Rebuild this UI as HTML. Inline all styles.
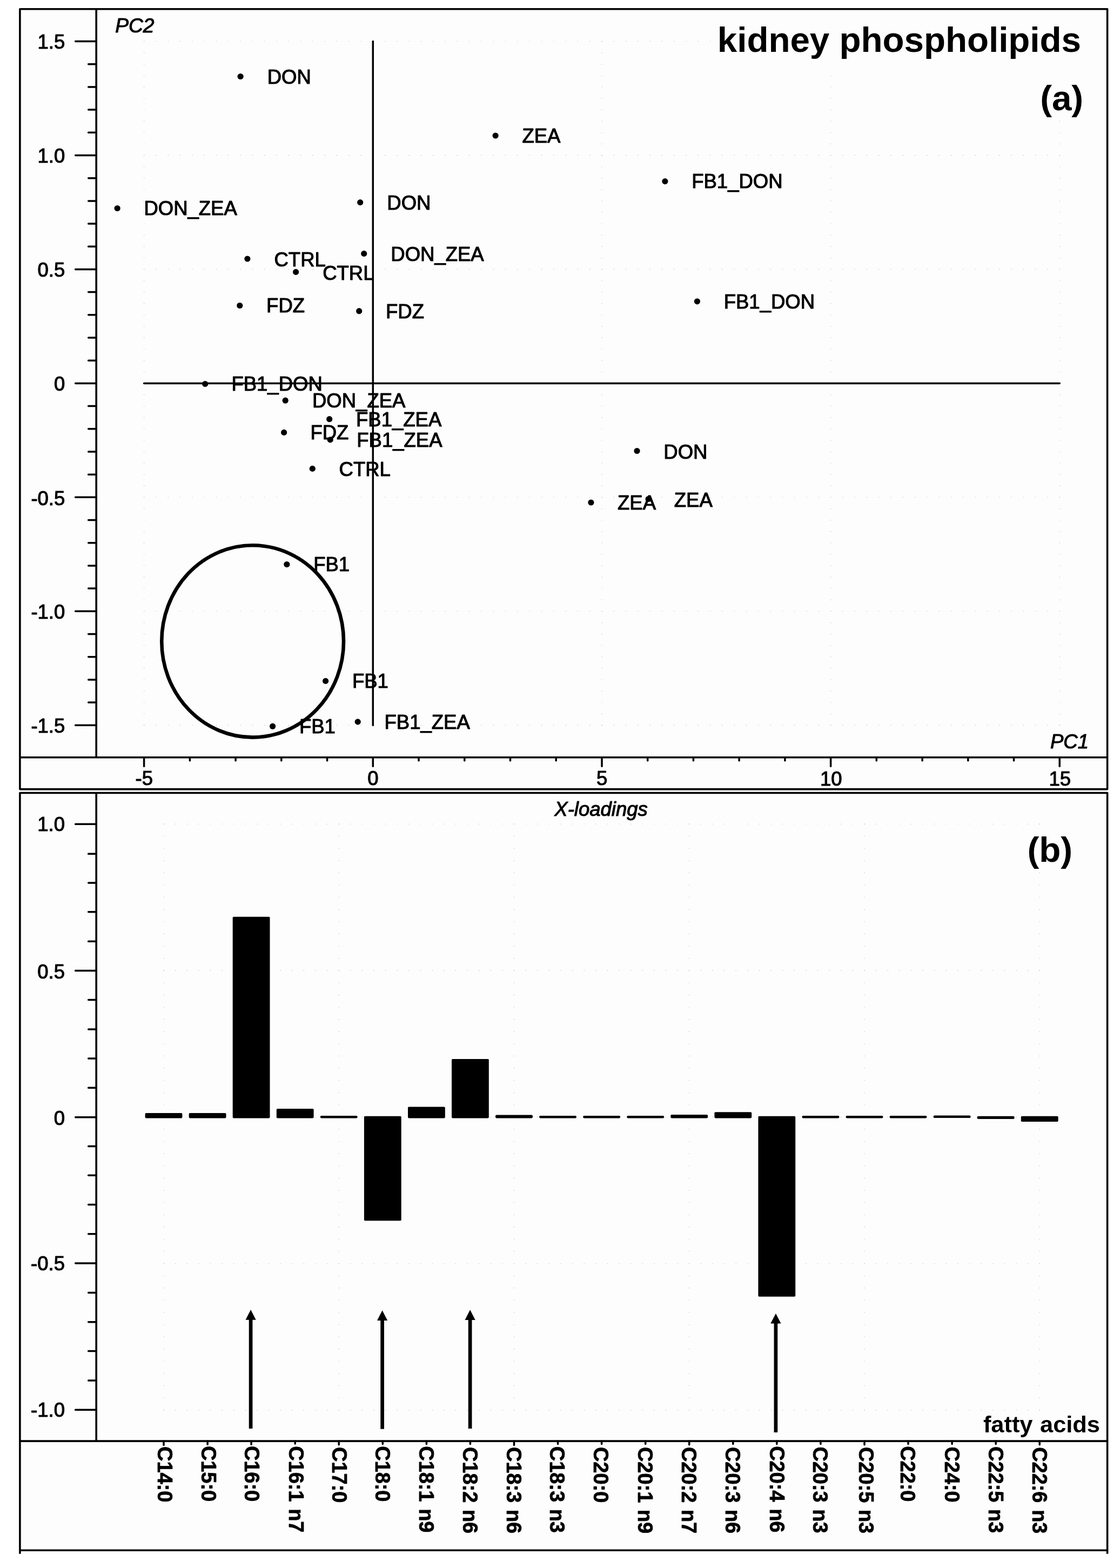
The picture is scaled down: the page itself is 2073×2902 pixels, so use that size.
<!DOCTYPE html>
<html lang="en">
<head>
<meta charset="utf-8">
<title>kidney phospholipids</title>
<style>
html,body{margin:0;padding:0;background:#fff;}
body{width:2073px;height:2902px;overflow:hidden;}
svg{display:block;}
text{white-space:pre;}
</style>
</head>
<body>
<svg width="2073" height="2902" viewBox="0 0 2073 2902">
<rect x="0" y="0" width="2073" height="2902" fill="#fff"/>
<rect x="36.9" y="16.8" width="2012.6999999999998" height="2852.3999999999996" fill="#fdfdfd"/>
<g stroke="#b2b2b2" stroke-width="1.3" stroke-linecap="round" fill="none">
<line x1="266.65" y1="76.55" x2="1961.75" y2="76.55" stroke-dasharray="0 22.297"/>
<line x1="266.65" y1="287.50" x2="1961.75" y2="287.50" stroke-dasharray="0 22.297"/>
<line x1="266.65" y1="498.45" x2="1961.75" y2="498.45" stroke-dasharray="0 22.297"/>
<line x1="266.65" y1="920.35" x2="1961.75" y2="920.35" stroke-dasharray="0 22.297"/>
<line x1="266.65" y1="1131.30" x2="1961.75" y2="1131.30" stroke-dasharray="0 22.297"/>
<line x1="266.65" y1="1342.25" x2="1961.75" y2="1342.25" stroke-dasharray="0 22.297"/>
<line x1="266.65" y1="76.55" x2="266.65" y2="1342.75" stroke-dasharray="0 21.095"/>
<line x1="1113.95" y1="76.55" x2="1113.95" y2="1342.75" stroke-dasharray="0 21.095"/>
<line x1="1537.60" y1="76.55" x2="1537.60" y2="1342.75" stroke-dasharray="0 21.095"/>
<line x1="1961.25" y1="76.55" x2="1961.25" y2="1342.75" stroke-dasharray="0 21.095"/>
<line x1="303.00" y1="1525.10" x2="1924.70" y2="1525.10" stroke-dasharray="0 21.616"/>
<line x1="303.00" y1="1796.25" x2="1924.70" y2="1796.25" stroke-dasharray="0 21.616"/>
<line x1="303.00" y1="2067.40" x2="1924.70" y2="2067.40" stroke-dasharray="0 21.616"/>
<line x1="303.00" y1="2338.55" x2="1924.70" y2="2338.55" stroke-dasharray="0 21.616"/>
<line x1="303.00" y1="2609.70" x2="1924.70" y2="2609.70" stroke-dasharray="0 21.616"/>
<line x1="303.00" y1="1525.10" x2="303.00" y2="2610.20" stroke-dasharray="0 22.596"/>
<line x1="627.24" y1="1525.10" x2="627.24" y2="2610.20" stroke-dasharray="0 22.596"/>
<line x1="951.48" y1="1525.10" x2="951.48" y2="2610.20" stroke-dasharray="0 22.596"/>
<line x1="1275.72" y1="1525.10" x2="1275.72" y2="2610.20" stroke-dasharray="0 22.596"/>
<line x1="1599.96" y1="1525.10" x2="1599.96" y2="2610.20" stroke-dasharray="0 22.596"/>
<line x1="1924.20" y1="1525.10" x2="1924.20" y2="2610.20" stroke-dasharray="0 22.596"/>
</g>
<g fill="#fdfdfd">
<rect x="1322" y="40" width="690" height="80"/>
<rect x="1920" y="120" width="92" height="99"/>
<rect x="1896" y="1536" width="96" height="70"/>
</g>
<g stroke="#000" stroke-width="3.6" fill="none" stroke-linecap="butt" stroke-linejoin="round">
<rect x="36.9" y="16.8" width="2012.6999999999998" height="1443.8"/>
<line x1="36.9" y1="1401.7" x2="2049.6" y2="1401.7"/>
<line x1="178.2" y1="16.8" x2="178.2" y2="1401.7"/>
<path d="M36.9 2875.7 V1467.5 H2049.6 V2875.7"/>
<line x1="36.9" y1="2869.2" x2="2049.6" y2="2869.2"/>
<line x1="36.9" y1="2667.1" x2="2049.6" y2="2667.1"/>
<line x1="178.2" y1="1467.5" x2="178.2" y2="2667.1"/>
</g>
<g stroke="#000" stroke-width="3.5" fill="none" stroke-linecap="round">
<line x1="139.7" y1="76.6" x2="178.2" y2="76.6"/>
<line x1="163.7" y1="118.7" x2="178.2" y2="118.7"/>
<line x1="163.7" y1="160.9" x2="178.2" y2="160.9"/>
<line x1="163.7" y1="203.1" x2="178.2" y2="203.1"/>
<line x1="163.7" y1="245.3" x2="178.2" y2="245.3"/>
<line x1="139.7" y1="287.5" x2="178.2" y2="287.5"/>
<line x1="163.7" y1="329.7" x2="178.2" y2="329.7"/>
<line x1="163.7" y1="371.9" x2="178.2" y2="371.9"/>
<line x1="163.7" y1="414.1" x2="178.2" y2="414.1"/>
<line x1="163.7" y1="456.3" x2="178.2" y2="456.3"/>
<line x1="139.7" y1="498.4" x2="178.2" y2="498.4"/>
<line x1="163.7" y1="540.6" x2="178.2" y2="540.6"/>
<line x1="163.7" y1="582.8" x2="178.2" y2="582.8"/>
<line x1="163.7" y1="625.0" x2="178.2" y2="625.0"/>
<line x1="163.7" y1="667.2" x2="178.2" y2="667.2"/>
<line x1="139.7" y1="709.4" x2="178.2" y2="709.4"/>
<line x1="163.7" y1="751.6" x2="178.2" y2="751.6"/>
<line x1="163.7" y1="793.8" x2="178.2" y2="793.8"/>
<line x1="163.7" y1="836.0" x2="178.2" y2="836.0"/>
<line x1="163.7" y1="878.2" x2="178.2" y2="878.2"/>
<line x1="139.7" y1="920.3" x2="178.2" y2="920.3"/>
<line x1="163.7" y1="962.5" x2="178.2" y2="962.5"/>
<line x1="163.7" y1="1004.7" x2="178.2" y2="1004.7"/>
<line x1="163.7" y1="1046.9" x2="178.2" y2="1046.9"/>
<line x1="163.7" y1="1089.1" x2="178.2" y2="1089.1"/>
<line x1="139.7" y1="1131.3" x2="178.2" y2="1131.3"/>
<line x1="163.7" y1="1173.5" x2="178.2" y2="1173.5"/>
<line x1="163.7" y1="1215.7" x2="178.2" y2="1215.7"/>
<line x1="163.7" y1="1257.9" x2="178.2" y2="1257.9"/>
<line x1="163.7" y1="1300.1" x2="178.2" y2="1300.1"/>
<line x1="139.7" y1="1342.2" x2="178.2" y2="1342.2"/>
<line x1="266.6" y1="1401.7" x2="266.6" y2="1418.2"/>
<line x1="351.4" y1="1401.7" x2="351.4" y2="1407.8"/>
<line x1="436.1" y1="1401.7" x2="436.1" y2="1407.8"/>
<line x1="520.8" y1="1401.7" x2="520.8" y2="1407.8"/>
<line x1="605.6" y1="1401.7" x2="605.6" y2="1407.8"/>
<line x1="690.3" y1="1401.7" x2="690.3" y2="1418.2"/>
<line x1="775.0" y1="1401.7" x2="775.0" y2="1407.8"/>
<line x1="859.8" y1="1401.7" x2="859.8" y2="1407.8"/>
<line x1="944.5" y1="1401.7" x2="944.5" y2="1407.8"/>
<line x1="1029.2" y1="1401.7" x2="1029.2" y2="1407.8"/>
<line x1="1114.0" y1="1401.7" x2="1114.0" y2="1418.2"/>
<line x1="1198.7" y1="1401.7" x2="1198.7" y2="1407.8"/>
<line x1="1283.4" y1="1401.7" x2="1283.4" y2="1407.8"/>
<line x1="1368.1" y1="1401.7" x2="1368.1" y2="1407.8"/>
<line x1="1452.9" y1="1401.7" x2="1452.9" y2="1407.8"/>
<line x1="1537.6" y1="1401.7" x2="1537.6" y2="1418.2"/>
<line x1="1622.3" y1="1401.7" x2="1622.3" y2="1407.8"/>
<line x1="1707.1" y1="1401.7" x2="1707.1" y2="1407.8"/>
<line x1="1791.8" y1="1401.7" x2="1791.8" y2="1407.8"/>
<line x1="1876.5" y1="1401.7" x2="1876.5" y2="1407.8"/>
<line x1="1961.2" y1="1401.7" x2="1961.2" y2="1418.2"/>
<line x1="139.7" y1="1525.3" x2="178.2" y2="1525.3"/>
<line x1="163.7" y1="1580.2" x2="178.2" y2="1580.2"/>
<line x1="163.7" y1="1634.1" x2="178.2" y2="1634.1"/>
<line x1="163.7" y1="1687.8" x2="178.2" y2="1687.8"/>
<line x1="163.7" y1="1742.3" x2="178.2" y2="1742.3"/>
<line x1="139.7" y1="1796.6" x2="178.2" y2="1796.6"/>
<line x1="163.7" y1="1850.6" x2="178.2" y2="1850.6"/>
<line x1="163.7" y1="1905.1" x2="178.2" y2="1905.1"/>
<line x1="163.7" y1="1958.9" x2="178.2" y2="1958.9"/>
<line x1="163.7" y1="2013.2" x2="178.2" y2="2013.2"/>
<line x1="139.7" y1="2067.7" x2="178.2" y2="2067.7"/>
<line x1="163.7" y1="2121.6" x2="178.2" y2="2121.6"/>
<line x1="163.7" y1="2175.2" x2="178.2" y2="2175.2"/>
<line x1="163.7" y1="2229.6" x2="178.2" y2="2229.6"/>
<line x1="163.7" y1="2283.7" x2="178.2" y2="2283.7"/>
<line x1="139.7" y1="2338.0" x2="178.2" y2="2338.0"/>
<line x1="163.7" y1="2392.5" x2="178.2" y2="2392.5"/>
<line x1="163.7" y1="2446.8" x2="178.2" y2="2446.8"/>
<line x1="163.7" y1="2500.4" x2="178.2" y2="2500.4"/>
<line x1="163.7" y1="2554.9" x2="178.2" y2="2554.9"/>
<line x1="139.7" y1="2609.2" x2="178.2" y2="2609.2"/>
<line x1="303.0" y1="2667.1" x2="303.0" y2="2674.4"/>
<line x1="384.1" y1="2667.1" x2="384.1" y2="2673.2"/>
<line x1="465.1" y1="2667.1" x2="465.1" y2="2673.2"/>
<line x1="546.2" y1="2667.1" x2="546.2" y2="2672.0"/>
<line x1="627.2" y1="2667.1" x2="627.2" y2="2673.8"/>
<line x1="708.3" y1="2667.1" x2="708.3" y2="2672.6"/>
<line x1="789.4" y1="2667.1" x2="789.4" y2="2672.6"/>
<line x1="870.4" y1="2667.1" x2="870.4" y2="2672.6"/>
<line x1="951.5" y1="2667.1" x2="951.5" y2="2674.4"/>
<line x1="1032.5" y1="2667.1" x2="1032.5" y2="2672.6"/>
<line x1="1113.6" y1="2667.1" x2="1113.6" y2="2672.6"/>
<line x1="1194.7" y1="2667.1" x2="1194.7" y2="2672.6"/>
<line x1="1275.7" y1="2667.1" x2="1275.7" y2="2673.8"/>
<line x1="1356.8" y1="2667.1" x2="1356.8" y2="2672.6"/>
<line x1="1437.8" y1="2667.1" x2="1437.8" y2="2672.6"/>
<line x1="1518.9" y1="2667.1" x2="1518.9" y2="2672.6"/>
<line x1="1600.0" y1="2667.1" x2="1600.0" y2="2673.8"/>
<line x1="1681.0" y1="2667.1" x2="1681.0" y2="2672.6"/>
<line x1="1762.1" y1="2667.1" x2="1762.1" y2="2672.6"/>
<line x1="1843.1" y1="2667.1" x2="1843.1" y2="2672.6"/>
<line x1="1924.2" y1="2667.1" x2="1924.2" y2="2673.8"/>
</g>
<g stroke="#000" stroke-width="3.5" fill="none" stroke-linecap="round">
<line x1="266.6" y1="709.4" x2="1961.2" y2="709.4"/>
<line x1="690.3" y1="76.6" x2="690.3" y2="1342.2"/>
</g>
<g font-family="'Liberation Sans', Arial, sans-serif" font-size="36.5" fill="#000" stroke="#000" stroke-width="1.1" stroke-linejoin="round">
<text x="120.3" y="89.5" text-anchor="end">1.5</text>
<text x="120.3" y="300.7" text-anchor="end">1.0</text>
<text x="120.3" y="512.1" text-anchor="end">0.5</text>
<text x="120.3" y="722.8" text-anchor="end">0</text>
<text x="120.3" y="934.5" text-anchor="end">-0.5</text>
<text x="120.3" y="1145.3" text-anchor="end">-1.0</text>
<text x="120.3" y="1355.7" text-anchor="end">-1.5</text>
<text x="266.8" y="1453.3" text-anchor="middle">-5</text>
<text x="690.5" y="1453.3" text-anchor="middle">0</text>
<text x="1114.2" y="1453.3" text-anchor="middle">5</text>
<text x="1538.2" y="1454.0" text-anchor="middle">10</text>
<text x="1961.8" y="1454.0" text-anchor="middle">15</text>
<text x="120.0" y="1538.2" text-anchor="end">1.0</text>
<text x="120.0" y="1810.5" text-anchor="end">0.5</text>
<text x="120.0" y="2081.5" text-anchor="end">0</text>
<text x="120.0" y="2351.2" text-anchor="end">-0.5</text>
<text x="120.0" y="2622.1" text-anchor="end">-1.0</text>
</g>
<g font-family="'Liberation Sans', Arial, sans-serif" font-size="36.5" font-style="italic" fill="#000" stroke="#000" stroke-width="1.1" stroke-linejoin="round">
<text x="213.2" y="60.1" font-size="37.2">PC2</text>
<text x="2015" y="1384.6" text-anchor="end">PC1</text>
<text x="1112.6" y="1509.5" text-anchor="middle">X-loadings</text>
</g>
<g font-family="'Liberation Sans', Arial, sans-serif" font-weight="bold" fill="#000">
<text x="2001" y="96.2" text-anchor="end" font-size="65.5">kidney phospholipids</text>
<text x="2005.2" y="203.5" text-anchor="end" font-size="65.5">(a)</text>
<text x="1985.2" y="1594.6" text-anchor="end" font-size="65.5">(b)</text>
<text x="2036" y="2651.4" text-anchor="end" font-size="43.4" style="word-spacing:1.5px">fatty acids</text>
</g>
<g fill="#000">
<circle cx="445.1" cy="141.5" r="5.6"/>
<circle cx="917.1" cy="251" r="5.6"/>
<circle cx="1230.9" cy="335.6" r="5.6"/>
<circle cx="217.1" cy="385.5" r="5.6"/>
<circle cx="666.7" cy="374.6" r="5.6"/>
<circle cx="457.9" cy="479" r="5.6"/>
<circle cx="547.6" cy="503.4" r="5.6"/>
<circle cx="673.7" cy="469.4" r="5.6"/>
<circle cx="443.8" cy="565.5" r="5.6"/>
<circle cx="664.7" cy="575.7" r="5.6"/>
<circle cx="1290.4" cy="557.8" r="5.6"/>
<circle cx="379.7" cy="710.5" r="5.6"/>
<circle cx="528.2" cy="741.2" r="5.6"/>
<circle cx="609.7" cy="775.7" r="5.6"/>
<circle cx="525.6" cy="800.4" r="5.6"/>
<circle cx="611.2" cy="813.9" r="5.6"/>
<circle cx="578.3" cy="867.4" r="5.6"/>
<circle cx="1179" cy="834.5" r="5.6"/>
<circle cx="1093.9" cy="930.0" r="5.6"/>
<circle cx="1200.1" cy="923.5" r="5.6"/>
<circle cx="530.9" cy="1044.5" r="5.6"/>
<circle cx="602.6" cy="1260.4" r="5.6"/>
<circle cx="504.6" cy="1344.2" r="5.6"/>
<circle cx="662.2" cy="1335.9" r="5.6"/>
</g>
<g font-family="'Liberation Sans', Arial, sans-serif" font-size="36.5" fill="#000" stroke="#000" stroke-width="1.1" stroke-linejoin="round">
<text x="494.7" y="155.2">DON</text>
<text x="966.4" y="264.4">ZEA</text>
<text x="1280.2" y="348.4">FB1_DON</text>
<text x="266.4" y="398.3">DON_ZEA</text>
<text x="716.3" y="388.3">DON</text>
<text x="507.5" y="492.5">CTRL</text>
<text x="597.2" y="517.6">CTRL</text>
<text x="723.3" y="483.1">DON_ZEA</text>
<text x="493.1" y="578.2">FDZ</text>
<text x="714.0" y="588.9">FDZ</text>
<text x="1339.7" y="570.6">FB1_DON</text>
<text x="428.4" y="723.4">FB1_DON</text>
<text x="578.0" y="753.8">DON_ZEA</text>
<text x="659.0" y="789.0">FB1_ZEA</text>
<text x="574.4" y="813.4">FDZ</text>
<text x="660.3" y="827.3">FB1_ZEA</text>
<text x="627.6" y="880.6">CTRL</text>
<text x="1228.3" y="848.5">DON</text>
<text x="1143.0" y="942.9">ZEA</text>
<text x="1247.8" y="937.8">ZEA</text>
<text x="580.2" y="1057.3">FB1</text>
<text x="651.9" y="1273.2">FB1</text>
<text x="553.9" y="1357.0">FB1</text>
<text x="711.5" y="1348.7">FB1_ZEA</text>
</g>
<ellipse cx="467.65" cy="1186.9" rx="168.4" ry="177.7" fill="none" stroke="#000" stroke-width="6.6"/>
<g fill="#000">
<rect x="268.6" y="2060.1" width="68.8" height="9.3" rx="1.8" ry="1.8"/>
<rect x="349.7" y="2060.1" width="68.8" height="9.3" rx="1.8" ry="1.8"/>
<rect x="430.7" y="1696.8" width="68.8" height="372.6" rx="1.8" ry="1.8"/>
<rect x="511.8" y="2052.1" width="68.8" height="17.3" rx="1.8" ry="1.8"/>
<rect x="592.8" y="2065.0" width="68.8" height="4.4" rx="1.8" ry="1.8"/>
<rect x="673.9" y="2065.8" width="68.8" height="193.5" rx="1.8" ry="1.8"/>
<rect x="755.0" y="2048.4" width="68.8" height="21.0" rx="1.8" ry="1.8"/>
<rect x="836.0" y="1960.0" width="68.8" height="109.4" rx="1.8" ry="1.8"/>
<rect x="917.1" y="2063.5" width="68.8" height="5.9" rx="1.8" ry="1.8"/>
<rect x="998.1" y="2065.0" width="68.8" height="4.4" rx="1.8" ry="1.8"/>
<rect x="1079.2" y="2065.0" width="68.8" height="4.4" rx="1.8" ry="1.8"/>
<rect x="1160.3" y="2065.0" width="68.8" height="4.4" rx="1.8" ry="1.8"/>
<rect x="1241.3" y="2063.0" width="68.8" height="6.4" rx="1.8" ry="1.8"/>
<rect x="1322.4" y="2058.3" width="68.8" height="11.1" rx="1.8" ry="1.8"/>
<rect x="1403.4" y="2065.8" width="68.8" height="333.9" rx="1.8" ry="1.8"/>
<rect x="1484.5" y="2065.0" width="68.8" height="4.4" rx="1.8" ry="1.8"/>
<rect x="1565.6" y="2065.0" width="68.8" height="4.4" rx="1.8" ry="1.8"/>
<rect x="1646.6" y="2065.0" width="68.8" height="4.4" rx="1.8" ry="1.8"/>
<rect x="1727.7" y="2064.6" width="68.8" height="4.4" rx="1.8" ry="1.8"/>
<rect x="1808.7" y="2065.8" width="68.8" height="5.2" rx="1.8" ry="1.8"/>
<rect x="1889.8" y="2065.8" width="68.8" height="10.2" rx="1.8" ry="1.8"/>
</g>
<line x1="464.1" y1="2643.9" x2="464.1" y2="2438.1" stroke="#000" stroke-width="6.7"/>
<path d="M464.1 2424.1 L473.70000000000005 2442.7999999999997 L454.5 2442.7999999999997 Z" fill="#000"/>
<line x1="707.6" y1="2644.8" x2="707.6" y2="2439.2" stroke="#000" stroke-width="6.7"/>
<path d="M707.6 2425.2 L717.2 2443.8999999999996 L698.0 2443.8999999999996 Z" fill="#000"/>
<line x1="870.1" y1="2643.9" x2="870.1" y2="2438.3" stroke="#000" stroke-width="6.7"/>
<path d="M870.1 2424.3 L879.7 2443.0 L860.5 2443.0 Z" fill="#000"/>
<line x1="1435.9" y1="2651.0" x2="1435.9" y2="2444.9" stroke="#000" stroke-width="6.7"/>
<path d="M1435.9 2430.9 L1445.5 2449.6 L1426.3000000000002 2449.6 Z" fill="#000"/>
<g font-family="'Liberation Sans', Arial, sans-serif" font-size="37.9" font-weight="bold" fill="#000" stroke="#000" stroke-width="0.8" stroke-linejoin="round" style="word-spacing:2.2px">
<text transform="translate(291.7 2677.1) rotate(90)" xml:space="preserve">C14:0</text>
<text transform="translate(372.7 2675.9) rotate(90)" xml:space="preserve">C15:0</text>
<text transform="translate(452.9 2675.9) rotate(90)" xml:space="preserve">C16:0</text>
<text transform="translate(535.1 2676.2) rotate(90)" xml:space="preserve">C16:1 n7</text>
<text transform="translate(615.2 2678.0) rotate(90)" xml:space="preserve">C17:0</text>
<text transform="translate(695.2 2676.2) rotate(90)" xml:space="preserve">C18:0</text>
<text transform="translate(776.2 2676.2) rotate(90)" xml:space="preserve">C18:1 n9</text>
<text transform="translate(857.2 2678.0) rotate(90)" xml:space="preserve">C18:2 n6</text>
<text transform="translate(938.2 2678.0) rotate(90)" xml:space="preserve">C18:3 n6</text>
<text transform="translate(1018.4 2676.8) rotate(90)" xml:space="preserve">C18:3 n3</text>
<text transform="translate(1099.2 2678.0) rotate(90)" xml:space="preserve">C20:0</text>
<text transform="translate(1180.8 2678.0) rotate(90)" xml:space="preserve">C20:1 n9</text>
<text transform="translate(1261.7 2678.0) rotate(90)" xml:space="preserve">C20:2 n7</text>
<text transform="translate(1343.2 2678.0) rotate(90)" xml:space="preserve">C20:3 n6</text>
<text transform="translate(1424.8 2676.2) rotate(90)" xml:space="preserve">C20:4 n6</text>
<text transform="translate(1504.5 2677.4) rotate(90)" xml:space="preserve">C20:3 n3</text>
<text transform="translate(1589.6 2678.0) rotate(90)" xml:space="preserve">C20:5 n3</text>
<text transform="translate(1667.2 2676.2) rotate(90)" xml:space="preserve">C22:0</text>
<text transform="translate(1748.5 2677.4) rotate(90)" xml:space="preserve">C24:0</text>
<text transform="translate(1830.4 2677.1) rotate(90)" xml:space="preserve">C22:5 n3</text>
<text transform="translate(1911.1 2678.2) rotate(90)" xml:space="preserve">C22:6 n3</text>
</g>
</svg>
</body>
</html>
